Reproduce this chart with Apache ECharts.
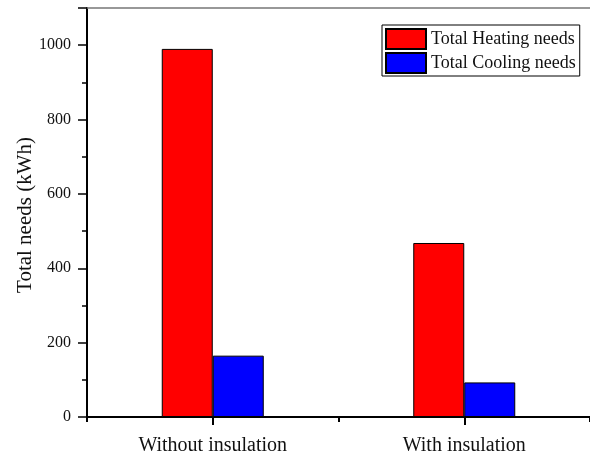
<!DOCTYPE html>
<html>
<head>
<meta charset="utf-8">
<script src="https://cdn.jsdelivr.net/npm/echarts@6/dist/echarts.min.js"></script>
<style>
html,body{margin:0;padding:0;background:#fff;}
#chart{width:590px;height:456px;}
</style>
</head>
<body>
<div id="chart"></div>
<script>
const categories = ['Without insulation', 'With insulation'];
const heatingNeeds = [990, 468];
const coolingNeeds = [165, 93];
const seriesNames = ['Total Heating needs', 'Total Cooling needs'];
const yAxisTitle = 'Total needs (kWh)';

const FONT = "'Liberation Serif', 'Times New Roman', serif";
const chart = echarts.init(document.getElementById('chart'));
chart.setOption({
  animation: false,
  backgroundColor: '#fff',
  textStyle: { fontFamily: FONT },
  grid: { left: 87, right: 0, top: 8, bottom: 39, containLabel: false },
  graphic: [{
    type: 'text',
    x: 25, y: 215,
    rotation: Math.PI / 2,
    style: {
      text: yAxisTitle,
      font: "21px 'Liberation Serif', 'Times New Roman', serif",
      fill: '#111',
      align: 'center',
      verticalAlign: 'middle'
    }
  }],
  legend: {
    orient: 'vertical',
    left: 382, top: 25,
    padding: [3, 4, 2, 3],
    itemGap: 2,
    itemWidth: 40, itemHeight: 20,
    icon: 'rect',
    borderColor: '#000', borderWidth: 1,
    backgroundColor: '#fff',
    textStyle: { fontFamily: FONT, fontSize: 18, color: '#111', lineHeight: 20 },
    data: seriesNames
  },
  xAxis: [
    {
      type: 'category', data: categories, position: 'bottom',
      axisLine: { lineStyle: { color: '#000', width: 2 } },
      axisTick: { show: false },
      axisLabel: { fontFamily: FONT, fontSize: 20, color: '#111', margin: 19 },
      splitLine: { show: false }
    },
    {
      type: 'value', min: 0, max: 4, interval: 1, position: 'bottom',
      axisLine: { show: false },
      axisTick: { show: true, customValues: [1, 3], length: 8, lineStyle: { color: '#000', width: 2 } },
      axisLabel: { show: false },
      splitLine: { show: false }
    },
    {
      type: 'value', min: 0, max: 4, interval: 1, position: 'bottom',
      axisLine: { show: false },
      axisTick: { show: true, customValues: [0, 2, 4], length: 5, lineStyle: { color: '#000', width: 2 } },
      axisLabel: { show: false },
      splitLine: { show: false }
    },
    {
      type: 'category', data: categories, position: 'top',
      axisLine: { lineStyle: { color: '#777', width: 1.5 } },
      axisTick: { show: false },
      axisLabel: { show: false },
      splitLine: { show: false }
    }
  ],
  yAxis: {
    type: 'value', min: 0, max: 1100, interval: 200,
    axisLine: { show: true, lineStyle: { color: '#000', width: 2 } },
    axisTick: { show: true, length: 9, lineStyle: { color: '#000', width: 1.5 } },
    minorTick: { show: true, splitNumber: 2, length: 5, lineStyle: { color: '#000', width: 1.5 } },
    axisLabel: { fontFamily: FONT, fontSize: 16, color: '#111', margin: 16, showMaxLabel: false,
      formatter: function (v) { return String(v); } },
    splitLine: { show: false }
  },
  series: [
    {
      name: seriesNames[0], type: 'bar', data: heatingNeeds, xAxisIndex: 0,
      barWidth: 51, barGap: '0%',
      itemStyle: { color: '#ff0000', borderColor: '#000', borderWidth: 1 }
    },
    {
      name: seriesNames[1], type: 'bar', data: coolingNeeds, xAxisIndex: 0,
      barWidth: 51, barGap: '0%',
      itemStyle: { color: '#0000ff', borderColor: '#000', borderWidth: 1 }
    }
  ]
});
</script>
</body>
</html>
